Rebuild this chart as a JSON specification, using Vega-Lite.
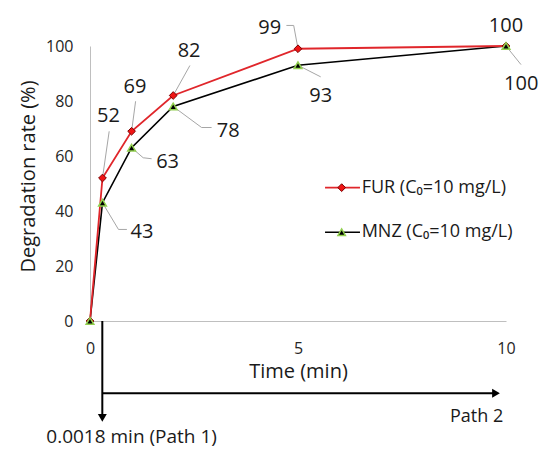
{
  "$schema": "https://vega.github.io/schema/vega-lite/v6.json",
  "width": 416,
  "height": 275,
  "autosize": {"type": "none"},
  "padding": {"left": 90, "top": 46, "right": 33, "bottom": 128},
  "background": "white",
  "config": {"view": {"stroke": null}, "font": "Open Sans", "text": {"font": "Open Sans", "color": "#1a1a1a"}},
  "datasets": {
    "deg": [
      {"series": "FUR", "time": 0, "rate": 0},
      {"series": "FUR", "time": 0.3, "rate": 52},
      {"series": "FUR", "time": 1, "rate": 69},
      {"series": "FUR", "time": 2, "rate": 82},
      {"series": "FUR", "time": 5, "rate": 99},
      {"series": "FUR", "time": 10, "rate": 100},
      {"series": "MNZ", "time": 0, "rate": 0},
      {"series": "MNZ", "time": 0.3, "rate": 43},
      {"series": "MNZ", "time": 1, "rate": 63},
      {"series": "MNZ", "time": 2, "rate": 78},
      {"series": "MNZ", "time": 5, "rate": 93},
      {"series": "MNZ", "time": 10, "rate": 100}
    ],
    "one": [{"k": 1}]
  },
  "layer": [
    {"data": {"name": "deg"},
     "transform": [{"filter": "datum.series == 'MNZ'"}],
     "mark": {"type": "line", "stroke": "#000000", "strokeWidth": 1.6},
     "encoding": {
       "x": {"field": "time", "type": "quantitative",
         "scale": {"domain": [0, 10], "nice": false, "zero": false},
         "axis": {"title": "Time (min)", "values": [0, 5, 10], "grid": false, "ticks": false, "tickSize": 0,
           "domainColor": "#bfbfbf", "domainWidth": 1, "labelFontSize": 16, "labelColor": "#262626",
           "labelPadding": 19, "labelFont": "Open Sans", "titleFont": "Open Sans", "titleFontSize": 20,
           "titleFontWeight": "normal", "titleColor": "#1a1a1a", "titlePadding": 5, "labelFlush": false}},
       "y": {"field": "rate", "type": "quantitative",
         "scale": {"domain": [0, 100], "nice": false},
         "axis": {"title": "Degradation rate (%)", "values": [0, 20, 40, 60, 80, 100], "grid": false, "ticks": false, "tickSize": 0,
           "domainColor": "#bfbfbf", "domainWidth": 1, "labelFontSize": 16, "labelColor": "#262626",
           "labelPadding": 17, "labelFont": "Open Sans", "titleFont": "Open Sans", "titleFontSize": 20,
           "titleFontWeight": "normal", "titleColor": "#1a1a1a", "titlePadding": 7, "titleY": 130, "labelFlush": false}}
     }},
    {"data": {"name": "deg"},
     "transform": [{"filter": "datum.series == 'FUR'"}],
     "mark": {"type": "line", "stroke": "#e0262b", "strokeWidth": 1.8},
     "encoding": {"x": {"field": "time", "type": "quantitative"}, "y": {"field": "rate", "type": "quantitative"}}},

    {"data": {"name": "deg"},
     "encoding": {"x": {"field": "time", "type": "quantitative"}, "y": {"field": "rate", "type": "quantitative"}},
     "layer": [
       {"transform": [{"filter": "datum.series == 'FUR' && datum.time == 0.3"}],
        "layer": [
          {"mark": {"type": "rule", "stroke": "#a6a6a6", "strokeWidth": 1, "x2Offset": 6.7, "y2Offset": -46.7},
           "encoding": {"x2": {"field": "time"}, "y2": {"field": "rate"}}},
          {"mark": {"type": "text", "fontSize": 20, "align": "center", "baseline": "alphabetic", "dx": 6, "dy": -56.4},
           "encoding": {"text": {"field": "rate"}}}
        ]},
       {"transform": [{"filter": "datum.series == 'FUR' && datum.time == 1"}],
        "layer": [
          {"mark": {"type": "rule", "stroke": "#a6a6a6", "strokeWidth": 1, "x2Offset": 4, "y2Offset": -30},
           "encoding": {"x2": {"field": "time"}, "y2": {"field": "rate"}}},
          {"mark": {"type": "text", "fontSize": 20, "align": "center", "baseline": "alphabetic", "dx": 3.3, "dy": -38.3},
           "encoding": {"text": {"field": "rate"}}}
        ]},
       {"transform": [{"filter": "datum.series == 'FUR' && datum.time == 2"}],
        "layer": [
          {"mark": {"type": "rule", "stroke": "#a6a6a6", "strokeWidth": 1, "x2Offset": 16.7, "y2Offset": -30},
           "encoding": {"x2": {"field": "time"}, "y2": {"field": "rate"}}},
          {"mark": {"type": "text", "fontSize": 20, "align": "center", "baseline": "alphabetic", "dx": 15.9, "dy": -38.8},
           "encoding": {"text": {"field": "rate"}}}
        ]},
       {"transform": [{"filter": "datum.series == 'FUR' && datum.time == 5"}],
        "layer": [
          {"mark": {"type": "rule", "stroke": "#a6a6a6", "strokeWidth": 1, "x2Offset": -4.3, "y2Offset": -23.3},
           "encoding": {"x2": {"field": "time"}, "y2": {"field": "rate"}}},
          {"mark": {"type": "rule", "stroke": "#a6a6a6", "strokeWidth": 1, "xOffset": -4.3, "yOffset": -23.3, "x2Offset": -11.6, "y2Offset": -23.3},
           "encoding": {"x2": {"field": "time"}, "y2": {"field": "rate"}}},
          {"mark": {"type": "text", "fontSize": 20, "align": "center", "baseline": "alphabetic", "dx": -28.3, "dy": -14.8},
           "encoding": {"text": {"field": "rate"}}}
        ]},
       {"transform": [{"filter": "datum.series == 'FUR' && datum.time == 10"}],
        "mark": {"type": "text", "fontSize": 20, "align": "center", "baseline": "alphabetic", "dx": 0, "dy": -14.5},
        "encoding": {"text": {"field": "rate"}}},
       {"transform": [{"filter": "datum.series == 'MNZ' && datum.time == 0.3"}],
        "layer": [
          {"mark": {"type": "rule", "stroke": "#a6a6a6", "strokeWidth": 1, "x2Offset": 16, "y2Offset": 26.7},
           "encoding": {"x2": {"field": "time"}, "y2": {"field": "rate"}}},
          {"mark": {"type": "rule", "stroke": "#a6a6a6", "strokeWidth": 1, "xOffset": 16, "yOffset": 26.7, "x2Offset": 24.4, "y2Offset": 26.7},
           "encoding": {"x2": {"field": "time"}, "y2": {"field": "rate"}}},
          {"mark": {"type": "text", "fontSize": 20, "align": "center", "baseline": "alphabetic", "dx": 39.4, "dy": 35.4},
           "encoding": {"text": {"field": "rate"}}}
        ]},
       {"transform": [{"filter": "datum.series == 'MNZ' && datum.time == 1"}],
        "layer": [
          {"mark": {"type": "rule", "stroke": "#a6a6a6", "strokeWidth": 1, "x2Offset": 11.6, "y2Offset": 10},
           "encoding": {"x2": {"field": "time"}, "y2": {"field": "rate"}}},
          {"mark": {"type": "rule", "stroke": "#a6a6a6", "strokeWidth": 1, "xOffset": 11.6, "yOffset": 10, "x2Offset": 20, "y2Offset": 11},
           "encoding": {"x2": {"field": "time"}, "y2": {"field": "rate"}}},
          {"mark": {"type": "text", "fontSize": 20, "align": "center", "baseline": "alphabetic", "dx": 36, "dy": 20},
           "encoding": {"text": {"field": "rate"}}}
        ]},
       {"transform": [{"filter": "datum.series == 'MNZ' && datum.time == 2"}],
        "layer": [
          {"mark": {"type": "rule", "stroke": "#a6a6a6", "strokeWidth": 1, "x2Offset": 28.4, "y2Offset": 21},
           "encoding": {"x2": {"field": "time"}, "y2": {"field": "rate"}}},
          {"mark": {"type": "rule", "stroke": "#a6a6a6", "strokeWidth": 1, "xOffset": 28.4, "yOffset": 21, "x2Offset": 38.4, "y2Offset": 21},
           "encoding": {"x2": {"field": "time"}, "y2": {"field": "rate"}}},
          {"mark": {"type": "text", "fontSize": 20, "align": "center", "baseline": "alphabetic", "dx": 55, "dy": 30.5},
           "encoding": {"text": {"field": "rate"}}}
        ]},
       {"transform": [{"filter": "datum.series == 'MNZ' && datum.time == 5"}],
        "layer": [
          {"mark": {"type": "rule", "stroke": "#a6a6a6", "strokeWidth": 1, "x2Offset": 22.7, "y2Offset": 11.6},
           "encoding": {"x2": {"field": "time"}, "y2": {"field": "rate"}}},
          {"mark": {"type": "text", "fontSize": 20, "align": "center", "baseline": "alphabetic", "dx": 22.7, "dy": 37},
           "encoding": {"text": {"field": "rate"}}}
        ]},
       {"transform": [{"filter": "datum.series == 'MNZ' && datum.time == 10"}],
        "layer": [
          {"mark": {"type": "rule", "stroke": "#a6a6a6", "strokeWidth": 1, "x2Offset": 15, "y2Offset": 18.6},
           "encoding": {"x2": {"field": "time"}, "y2": {"field": "rate"}}},
          {"mark": {"type": "text", "fontSize": 20, "align": "center", "baseline": "alphabetic", "dx": 15.2, "dy": 43.8},
           "encoding": {"text": {"field": "rate"}}}
        ]},
       {"transform": [{"filter": "datum.series == 'FUR'"}],
        "mark": {"type": "point", "shape": "diamond", "size": 60, "filled": true, "fill": "#f01414", "stroke": "#7a0000", "strokeWidth": 1, "opacity": 1}},
       {"transform": [{"filter": "datum.series == 'MNZ'"}],
        "mark": {"type": "point", "shape": "triangle-up", "size": 60, "filled": true, "fill": "#000000", "stroke": "#92d050", "strokeWidth": 1.5, "opacity": 1}}
     ]},

    {"data": {"name": "one"},
     "mark": {"type": "rule", "stroke": "#e0262b", "strokeWidth": 1.6},
     "encoding": {"x": {"datum": 5.65, "type": "quantitative"}, "x2": {"datum": 6.49}, "y": {"datum": 48.5, "type": "quantitative"}}},
    {"data": {"name": "one"},
     "mark": {"type": "point", "shape": "diamond", "size": 60, "filled": true, "fill": "#f01414", "stroke": "#7a0000", "strokeWidth": 1, "opacity": 1},
     "encoding": {"x": {"datum": 6.05, "type": "quantitative"}, "y": {"datum": 48.5, "type": "quantitative"}}},
    {"data": {"name": "one"},
     "mark": {"type": "text", "fontSize": 18, "align": "left", "baseline": "middle", "text": "FUR (C₀=10 mg/L)"},
     "encoding": {"x": {"datum": 6.53, "type": "quantitative"}, "y": {"datum": 48.5, "type": "quantitative"}}},
    {"data": {"name": "one"},
     "mark": {"type": "rule", "stroke": "#000000", "strokeWidth": 1.4},
     "encoding": {"x": {"datum": 5.65, "type": "quantitative"}, "x2": {"datum": 6.49}, "y": {"datum": 32.3, "type": "quantitative"}}},
    {"data": {"name": "one"},
     "mark": {"type": "point", "shape": "triangle-up", "size": 55, "filled": true, "fill": "#000000", "stroke": "#92d050", "strokeWidth": 1.5, "opacity": 1},
     "encoding": {"x": {"datum": 6.05, "type": "quantitative"}, "y": {"datum": 32.3, "type": "quantitative"}}},
    {"data": {"name": "one"},
     "mark": {"type": "text", "fontSize": 18, "align": "left", "baseline": "middle", "text": "MNZ (C₀=10 mg/L)"},
     "encoding": {"x": {"datum": 6.53, "type": "quantitative"}, "y": {"datum": 32.3, "type": "quantitative"}}},

    {"data": {"name": "one"},
     "mark": {"type": "rule", "stroke": "#000000", "strokeWidth": 2, "clip": false},
     "encoding": {"x": {"datum": 0.296, "type": "quantitative"}, "y": {"datum": 0, "type": "quantitative"}, "y2": {"datum": -34.5}}},
    {"data": {"name": "one"},
     "mark": {"type": "point", "shape": "triangle-down", "size": 80, "filled": true, "fill": "#000000", "strokeWidth": 0, "opacity": 1, "clip": false},
     "encoding": {"x": {"datum": 0.296, "type": "quantitative"}, "y": {"datum": -35.2, "type": "quantitative"}}},
    {"data": {"name": "one"},
     "mark": {"type": "rule", "stroke": "#000000", "strokeWidth": 2, "clip": false},
     "encoding": {"x": {"datum": 0.296, "type": "quantitative"}, "x2": {"datum": 9.7}, "y": {"datum": -26.3, "type": "quantitative"}}},
    {"data": {"name": "one"},
     "mark": {"type": "point", "shape": "triangle-right", "size": 80, "filled": true, "fill": "#000000", "strokeWidth": 0, "opacity": 1, "clip": false},
     "encoding": {"x": {"datum": 9.76, "type": "quantitative"}, "y": {"datum": -26.3, "type": "quantitative"}}},
    {"data": {"name": "one"},
     "mark": {"type": "text", "fontSize": 18, "align": "right", "baseline": "alphabetic", "text": "Path 2"},
     "encoding": {"x": {"datum": 9.935, "type": "quantitative"}, "y": {"datum": -36.8, "type": "quantitative"}}},
    {"data": {"name": "one"},
     "mark": {"type": "text", "fontSize": 19, "align": "center", "baseline": "alphabetic", "text": "0.0018 min (Path 1)"},
     "encoding": {"x": {"datum": 1.0, "type": "quantitative"}, "y": {"datum": -44.4, "type": "quantitative"}}}
  ]
}
